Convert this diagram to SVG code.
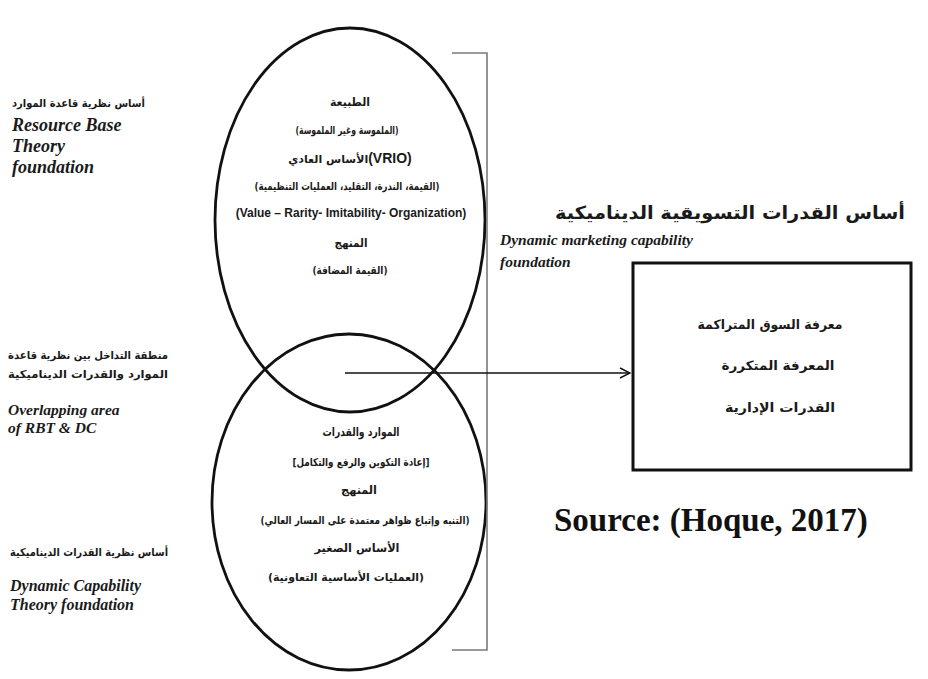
<svg xmlns="http://www.w3.org/2000/svg" width="928" height="679" viewBox="0 0 928 679">
  <defs>
    <marker id="chevron" viewBox="0 0 12 12" refX="11" refY="6" markerWidth="12" markerHeight="12" markerUnits="userSpaceOnUse" orient="auto">
      <path d="M1,1 L11,6 L1,11" fill="none" stroke="#111" stroke-width="1.4"/>
    </marker>
  </defs>
  <style>
    .ar { font-family: "DejaVu Sans", "Noto Sans", sans-serif; font-weight: bold; fill: #1a1a1a; }
    .en { font-family: "Liberation Serif", "Times New Roman", serif; font-weight: bold; font-style: italic; fill: #1a1a1a; }
    .lat { font-family: "Liberation Sans", Arial, sans-serif; font-weight: bold; fill: #1a1a1a; }
    .ring { fill: none; stroke: #111; stroke-width: 2.8; }
    .mid { text-anchor: middle; }
  </style>
  <rect width="928" height="679" fill="#fff"/>

  <!-- side labels -->
  <g id="label-rbt">
    <text class="ar" x="12" y="107" font-size="11" textLength="133" lengthAdjust="spacingAndGlyphs">أساس نظرية قاعدة الموارد</text>
    <text class="en" x="12" y="131" font-size="18">Resource Base</text>
    <text class="en" x="12" y="152" font-size="18">Theory</text>
    <text class="en" x="12" y="173" font-size="18">foundation</text>
  </g>
  <g id="label-overlap">
    <text class="ar" x="8" y="359" font-size="11" textLength="160" lengthAdjust="spacingAndGlyphs">منطقة التداخل بين نظرية قاعدة</text>
    <text class="ar" x="8" y="378" font-size="11" textLength="160" lengthAdjust="spacingAndGlyphs">الموارد والقدرات الديناميكية</text>
    <text class="en" x="8" y="415" font-size="15.5">Overlapping area</text>
    <text class="en" x="8" y="433" font-size="15.5">of RBT &amp; DC</text>
  </g>
  <g id="label-dc">
    <text class="ar" x="10" y="556" font-size="11" textLength="158" lengthAdjust="spacingAndGlyphs">أساس نظرية القدرات الديناميكية</text>
    <text class="en" x="10" y="591" font-size="16">Dynamic Capability</text>
    <text class="en" x="10" y="610" font-size="16">Theory foundation</text>
  </g>

  <!-- upper ellipse: resource base theory -->
  <g id="rbt">
    <ellipse class="ring" cx="350" cy="220" rx="135" ry="192"/>
    <text class="ar mid" x="350" y="106" font-size="11.5" textLength="40" lengthAdjust="spacingAndGlyphs">الطبيعة</text>
    <text class="ar mid" x="347" y="134" font-size="11" textLength="103" lengthAdjust="spacingAndGlyphs">(الملموسة وغير الملموسة)</text>
    <text class="ar mid" x="350" y="163" font-size="11">الأساس العادي<tspan class="lat" font-size="14">(VRIO)</tspan></text>
    <text class="ar mid" x="347" y="190" font-size="11" textLength="185" lengthAdjust="spacingAndGlyphs">(القيمة، الندرة، التقليد، العمليات التنظيمية)</text>
    <text class="lat mid" x="351" y="217" font-size="12">(Value – Rarity- Imitability- Organization)</text>
    <text class="ar mid" x="351" y="247" font-size="11.5" textLength="33" lengthAdjust="spacingAndGlyphs">المنهج</text>
    <text class="ar mid" x="350" y="274" font-size="11" textLength="75" lengthAdjust="spacingAndGlyphs">(القيمة المضافة)</text>
  </g>

  <!-- lower ellipse: dynamic capability theory -->
  <g id="dc">
    <ellipse class="ring" cx="349" cy="502" rx="137" ry="168"/>
    <text class="ar mid" x="361" y="436" font-size="11.5" textLength="77" lengthAdjust="spacingAndGlyphs">الموارد والقدرات</text>
    <text class="ar mid" x="361" y="466" font-size="11" textLength="137" lengthAdjust="spacingAndGlyphs">[إعادة التكوين والرفع والتكامل]</text>
    <text class="ar mid" x="359" y="494" font-size="11.5" textLength="36" lengthAdjust="spacingAndGlyphs">المنهج</text>
    <text class="ar mid" x="365" y="524" font-size="11" textLength="209" lengthAdjust="spacingAndGlyphs">(التنبه وإتباع ظواهر معتمدة على المسار العالي)</text>
    <text class="ar mid" x="357" y="552" font-size="11.5" textLength="85" lengthAdjust="spacingAndGlyphs">الأساس الصغير</text>
    <text class="ar mid" x="346" y="581" font-size="11" textLength="156" lengthAdjust="spacingAndGlyphs">(العمليات الأساسية التعاونية)</text>
  </g>

  <!-- grouping bracket -->
  <g id="bracket">
    <polyline points="452,53 487,53 487,650 452,650" fill="none" stroke="#7a7a7a" stroke-width="1.6"/>
  </g>

  <!-- dynamic marketing capability foundation -->
  <g id="dmc-title">
    <text class="ar" x="905" y="219" font-size="18" text-anchor="end" textLength="350" lengthAdjust="spacingAndGlyphs">أساس القدرات التسويقية الديناميكية</text>
    <text class="en" x="500" y="245" font-size="15.5">Dynamic marketing capability</text>
    <text class="en" x="500" y="267" font-size="15.5">foundation</text>
  </g>
  <g id="dmc-box">
    <rect x="633" y="263" width="278" height="207" fill="#fff" stroke="#111" stroke-width="3"/>
    <text class="ar mid" x="770" y="329" font-size="13" textLength="145" lengthAdjust="spacingAndGlyphs">معرفة السوق  المتراكمة</text>
    <text class="ar mid" x="778" y="370" font-size="13" textLength="113" lengthAdjust="spacingAndGlyphs">المعرفة المتكررة</text>
    <text class="ar mid" x="780" y="412" font-size="13" textLength="110" lengthAdjust="spacingAndGlyphs">القدرات الإدارية</text>
  </g>

  <!-- connectors -->
  <g id="connectors">
    <line x1="345" y1="373" x2="630" y2="373" stroke="#111" stroke-width="1.5" marker-end="url(#chevron)"/>
  </g>

  <g id="source">
    <text x="554" y="531" font-family="Liberation Serif, 'Times New Roman', serif" font-weight="bold" font-size="33" fill="#111">Source: (Hoque, 2017)</text>
  </g>
</svg>
